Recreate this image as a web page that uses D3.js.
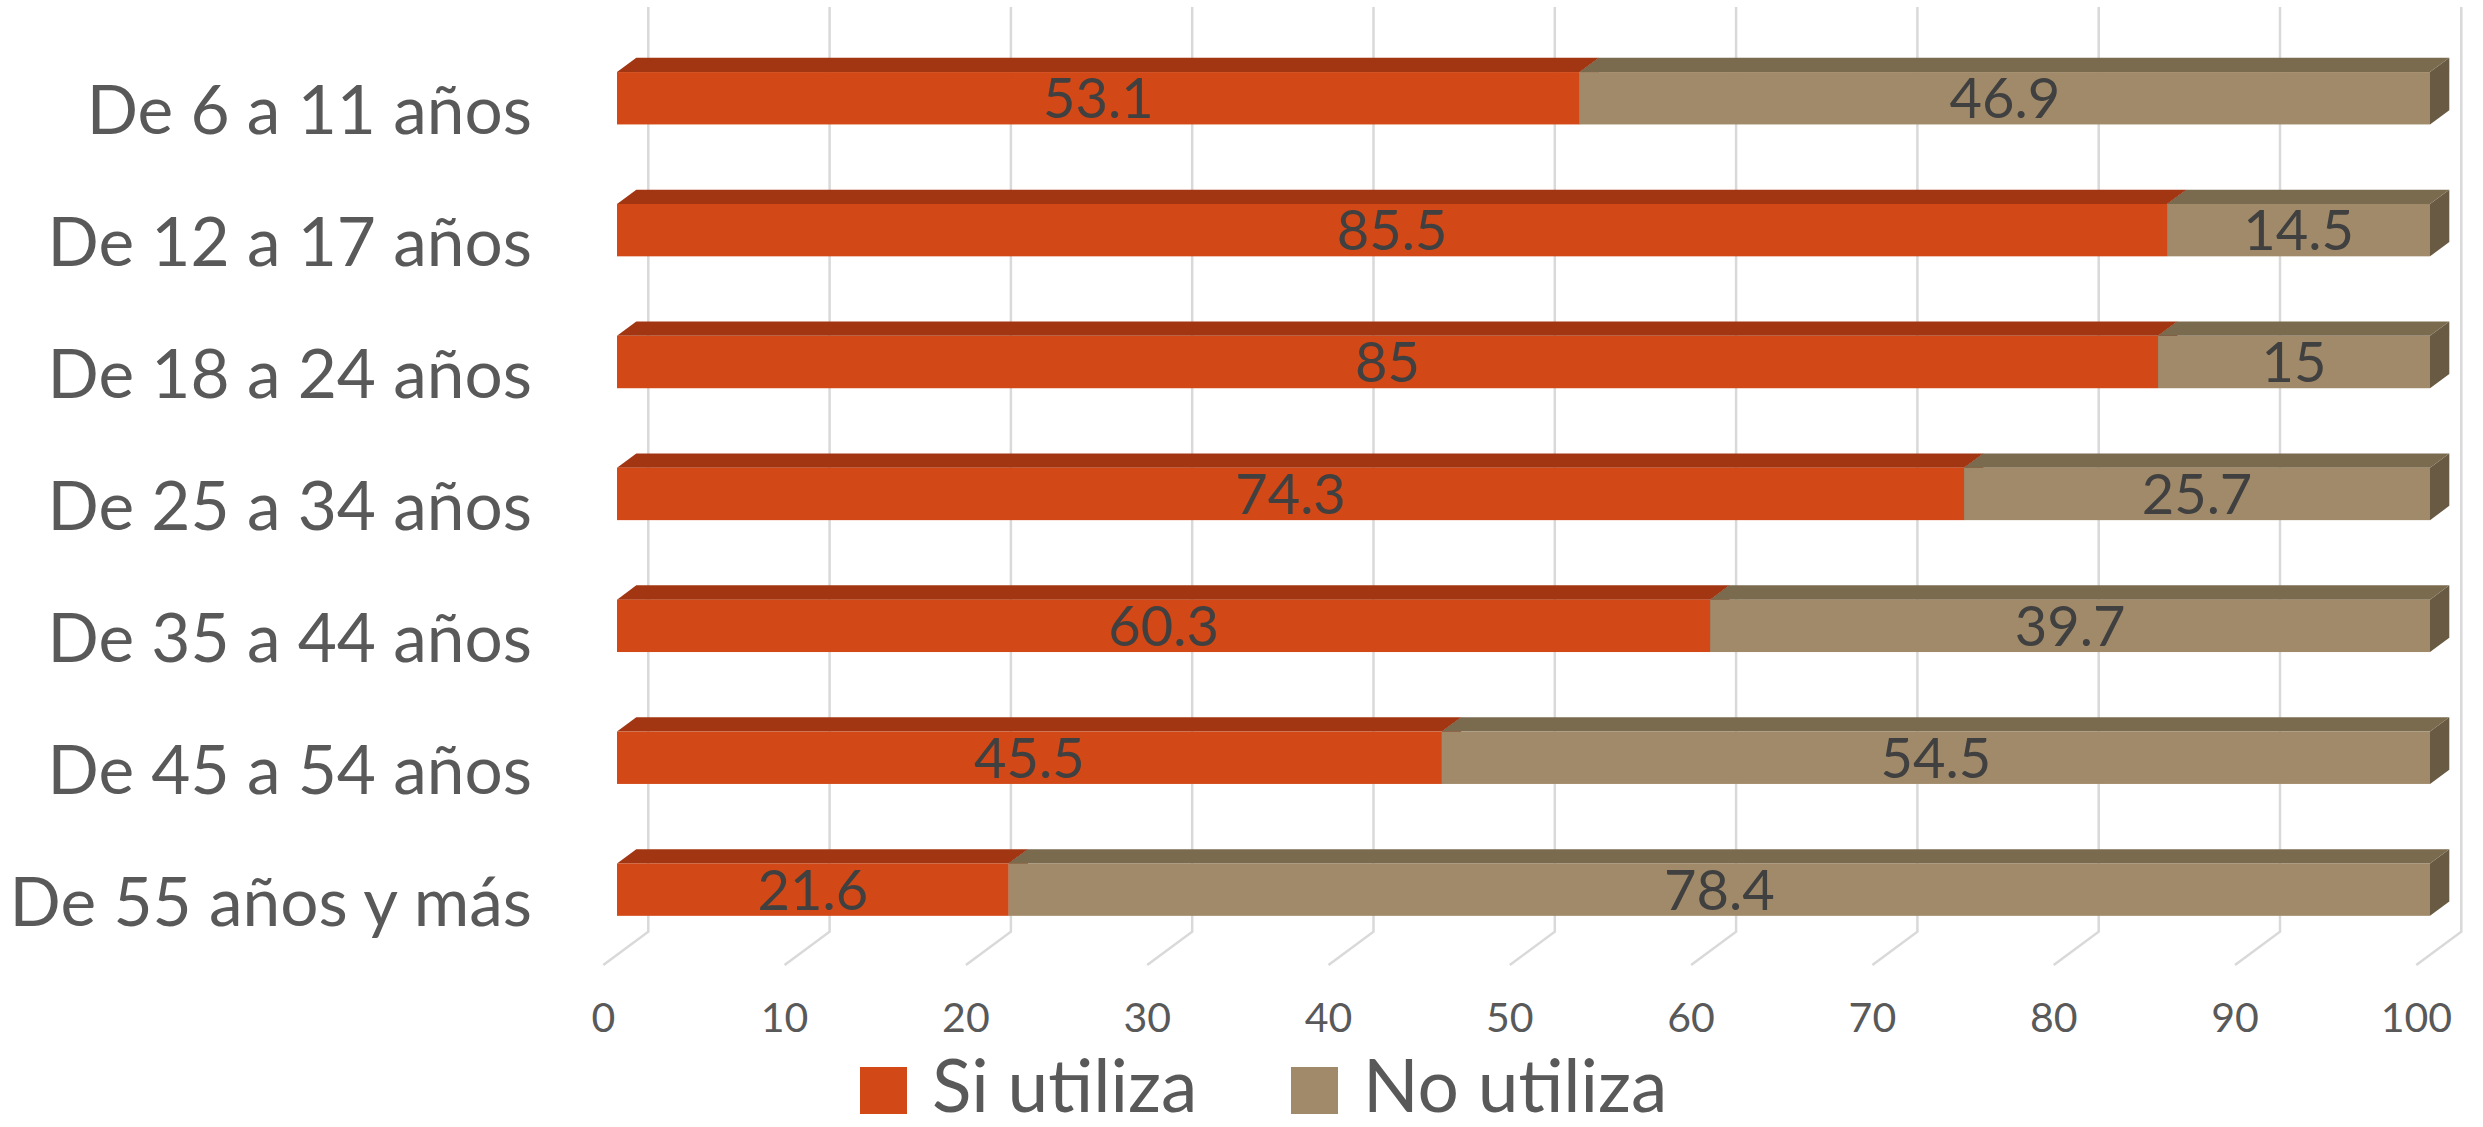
<!DOCTYPE html>
<html>
<head>
<meta charset="utf-8">
<script src="https://cdn.jsdelivr.net/npm/d3@7"></script>
<style>
  body { margin: 0; background: #ffffff; }
  svg text { font-family: Lato, "Open Sans", sans-serif; }
</style>
</head>
<body>
<div id="graph"></div>
<script>
// age groups, top to bottom
var categories = ["De 6 a 11 años", "De 12 a 17 años", "De 18 a 24 años", "De 25 a 34 años",
    "De 35 a 44 años", "De 45 a 54 años", "De 55 años y más"]
var siUtiliza = [53.1, 85.5, 85, 74.3, 60.3, 45.5, 21.6]
var noUtiliza = [46.9, 14.5, 15, 25.7, 39.7, 54.5, 78.4]
var seriesNames = ["Si utiliza", "No utiliza"]
var xTicks = [0, 10, 20, 30, 40, 50, 60, 70, 80, 90, 100]

var width = 2483, height = 1127

var svg = d3.select("#graph")
    .append("svg")
    .attr("width", width)
    .attr("height", height)

// build the table the stack wants
var data = categories.map(function (c, i) {
    return { group: c, si: siUtiliza[i], no: noUtiliza[i] }
})
var keys = ["si", "no"]

// x scale = front face of the bars
var x = d3.scaleLinear()
    .domain([0, 100])
    .range([617, 2430])

var y = d3.scaleBand()
    .domain(categories)
    .range([32.3, 955.6])
    .paddingInner(0.603)
    .paddingOuter(0.3015)

// fake 3d: offset from bar front to bar back, and wall / floor positions
var depthX = 19.3, depthY = -14.3
var wallTop = 7, floorBack = 931.7, floorFront = 965
var backShift = 31.3, frontShift = -13.7

var color = d3.scaleOrdinal().domain(keys).range(['#d24816', '#a08a69'])
var topColor = d3.scaleOrdinal().domain(keys).range(['#a23512', '#7a6b4f'])
var sideColor = d3.scaleOrdinal().domain(keys).range(['#8a2c0e', '#685a43'])

// gridlines on the back wall running down into the floor
svg.append("g")
    .selectAll("path")
    .data(xTicks)
    .enter()
    .append("path")
    .attr("d", function (d) {
        return "M" + (x(d) + backShift) + "," + wallTop +
            "V" + floorBack +
            "L" + (x(d) + frontShift) + "," + floorFront
    })
    .attr("fill", "none")
    .attr("stroke", "#d9d9d9")
    .attr("stroke-width", 2.5)

// tick labels
svg.append("g")
    .selectAll("text")
    .data(xTicks)
    .enter()
    .append("text")
    .attr("x", function (d) { return x(d) + frontShift })
    .attr("y", 1032)
    .attr("text-anchor", "middle")
    .style("font-size", "41px")
    .style("fill", "#595959")
    .text(function (d) { return d })

// category labels
svg.append("g")
    .selectAll("text")
    .data(categories)
    .enter()
    .append("text")
    .attr("x", 532)
    .attr("y", function (d) { return y(d) + 62.3 })
    .attr("text-anchor", "end")
    .style("font-size", "67.5px")
    .style("fill", "#595959")
    .text(function (d) { return d })

var stackedData = d3.stack().keys(keys)(data)

var layers = svg.append("g")
    .selectAll("g")
    .data(stackedData)
    .enter()
    .append("g")

var h = y.bandwidth()

// right side face (only the last one shows)
layers.selectAll("polygon.side")
    .data(function (d) { return d.map(function (e) { e.key = d.key; return e }) })
    .enter().append("polygon")
    .attr("class", "side")
    .attr("points", function (d) {
        var x1 = x(d[1]), yt = y(d.data.group)
        return [[x1, yt], [x1 + depthX, yt + depthY], [x1 + depthX, yt + h + depthY], [x1, yt + h]].join(" ")
    })
    .attr("fill", function (d) { return sideColor(d.key) })

// top face
layers.selectAll("polygon.top")
    .data(function (d) { return d })
    .enter().append("polygon")
    .attr("class", "top")
    .attr("points", function (d) {
        var x0 = x(d[0]), x1 = x(d[1]), yt = y(d.data.group)
        return [[x0, yt], [x0 + depthX, yt + depthY], [x1 + depthX, yt + depthY], [x1, yt]].join(" ")
    })
    .attr("fill", function (d) { return topColor(d.key) })

// front face
layers.selectAll("rect")
    .data(function (d) { return d })
    .enter().append("rect")
    .attr("x", function (d) { return x(d[0]) })
    .attr("y", function (d) { return y(d.data.group) })
    .attr("width", function (d) { return x(d[1]) - x(d[0]) })
    .attr("height", h)
    .attr("fill", function (d) { return color(d.key) })

// value labels centred on the front face
layers.selectAll("text")
    .data(function (d) { return d })
    .enter().append("text")
    .attr("x", function (d) { return (x(d[0]) + x(d[1])) / 2 })
    .attr("y", function (d) { return y(d.data.group) + h / 2 + 20 })
    .attr("text-anchor", "middle")
    .style("font-size", "56px")
    .style("fill", "#404040")
    .text(function (d) { return d[1] - d[0] === 0 ? "" : +(d[1] - d[0]).toFixed(1) })

// legend
var legendX = [860, 1291]
keys.forEach(function (k, i) {
    svg.append("rect")
        .attr("x", legendX[i]).attr("y", 1067)
        .attr("width", 47).attr("height", 47)
        .attr("fill", color(k))
    svg.append("text")
        .attr("x", legendX[i] + 72).attr("y", 1112)
        .style("font-size", "73px")
        .style("fill", "#595959")
        .text(seriesNames[i])
})
</script>
</body>
</html>
